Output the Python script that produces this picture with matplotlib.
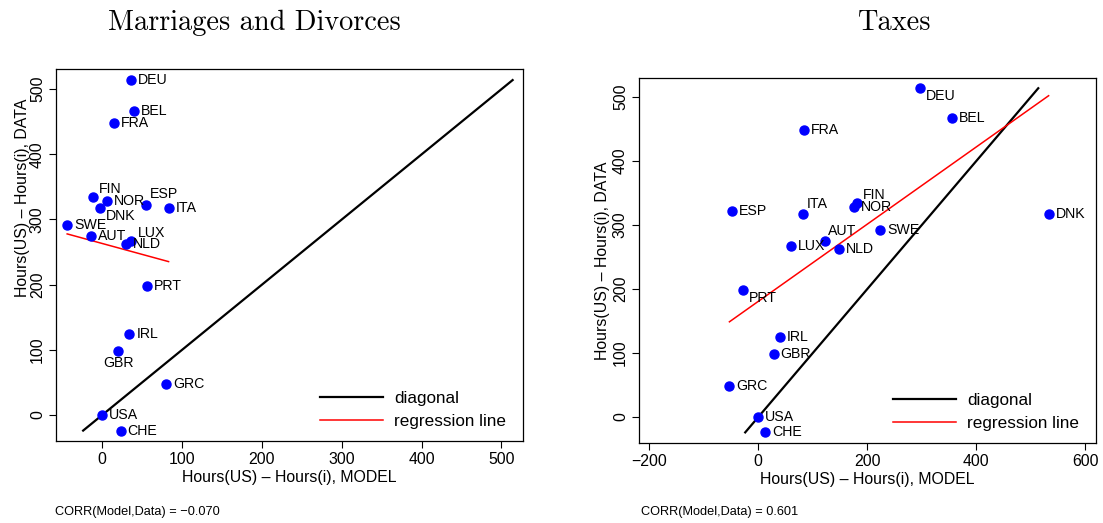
import numpy as np
import matplotlib
matplotlib.use("Agg")
import matplotlib.pyplot as plt

plt.rcParams['font.family'] = ['Liberation Sans', 'DejaVu Sans']

countries = ['DEU', 'BEL', 'FRA', 'FIN', 'NOR', 'DNK', 'ESP', 'ITA', 'SWE',
             'AUT', 'LUX', 'NLD', 'PRT', 'IRL', 'GBR', 'GRC', 'USA', 'CHE']
data = [514, 467, 448, 335, 328, 317, 322, 317, 292,
        275, 267, 262, 198, 125, 98, 48, 0, -24]
model_marr = [36, 40, 15, -12, 6, -3, 55, 83, -44,
              -14, 36, 30, 56, 34, 20, 80, 0, 23]
model_tax = [296, 355, 84, 181, 175, 533, -48, 83, 224,
             122, 60, 148, -28, 40, 28, -53, 0, 12]

titles = ['Marriages and Divorces', 'Taxes']
corr_text = ['CORR(Model,Data) = \u22120.070', 'CORR(Model,Data) = 0.601']

# label offsets in pixels (dx, dy, ha); default is to the right of the point
offs_marr = {'FIN': (6, 8, 'left'), 'DNK': (6, -8, 'left'), 'ESP': (4, 11, 'left'),
             'LUX': (7, 8, 'left'), 'GBR': (0, -12, 'center')}
offs_tax = {'DEU': (6, -8, 'left'), 'FIN': (6, 8, 'left'), 'ITA': (3, 10, 'left'),
            'AUT': (3, 10, 'left'), 'PRT': (6, -8, 'left')}

W, H = 1103, 523
fig = plt.figure(figsize=(W / 100, H / 100), dpi=100)

def px(l, t, r, b):
    return [l / W, 1 - b / H, (r - l) / W, (b - t) / H]

ax1 = fig.add_axes(px(56, 69, 523, 441))
ax2 = fig.add_axes(px(639, 78, 1096, 443))

def panel(ax, model, offs, xlim, ylim, xticks):
    model = np.array(model, float)
    y = np.array(data, float)
    lo, hi = y.min(), y.max()
    ax.plot([lo, hi], [lo, hi], color='black', lw=1.6, label='diagonal')
    b, a = np.polyfit(model, y, 1)
    xr = np.array([model.min(), model.max()])
    ax.plot(xr, a + b * xr, color='red', lw=1.1, label='regression line')
    ax.plot(model, y, 'o', color='blue', ms=6.5, zorder=3)
    for name, mx, my in zip(countries, model, y):
        dx, dy, ha = offs.get(name, (7, 0, 'left'))
        ax.annotate(name, (mx, my), xytext=(dx, dy), textcoords='offset pixels',
                    ha=ha, va='center', fontsize=10.2)
    ax.set_xlim(xlim)
    ax.set_ylim(ylim)
    ax.set_xticks(xticks)
    ax.set_yticks([0, 100, 200, 300, 400, 500])
    ax.tick_params(direction='out', length=5, width=0.8, labelsize=11.4, pad=3)
    for lab in ax.get_yticklabels():
        lab.set_rotation(90)
        lab.set_va('center')
    ax.set_xlabel('Hours(US) \u2013 Hours(i), MODEL', fontsize=11.4, labelpad=2)
    ax.set_ylabel('Hours(US) \u2013 Hours(i), DATA', fontsize=11.4, labelpad=2)
    for s in ax.spines.values():
        s.set_linewidth(0.9)
    ax.legend(loc='lower right', bbox_to_anchor=(0.996, -0.01), frameon=False,
              fontsize=12.3, handlelength=3.7, handletextpad=0.63, labelspacing=0.5)

panel(ax1, model_marr, offs_marr, (-58, 527), (-40, 531), [0, 100, 200, 300, 400, 500])
panel(ax2, model_tax, offs_tax, (-219, 620), (-40.6, 530), [-200, 0, 200, 400, 600])

ax1.yaxis.set_label_coords(-0.056, 0.653)

fig.text(254 / W, 1 - 23 / H, titles[0], fontfamily='cmr10', fontsize=20.4,
         ha='center', va='center')
fig.text(894 / W, 1 - 23 / H, titles[1], fontfamily='cmr10', fontsize=20.4,
         ha='center', va='center')
fig.text(55 / W, 1 - 512 / H, corr_text[0], fontsize=9.2, va='center')
fig.text(641 / W, 1 - 512 / H, corr_text[1], fontsize=9.2, va='center')

fig.savefig('out.png', dpi=100)
